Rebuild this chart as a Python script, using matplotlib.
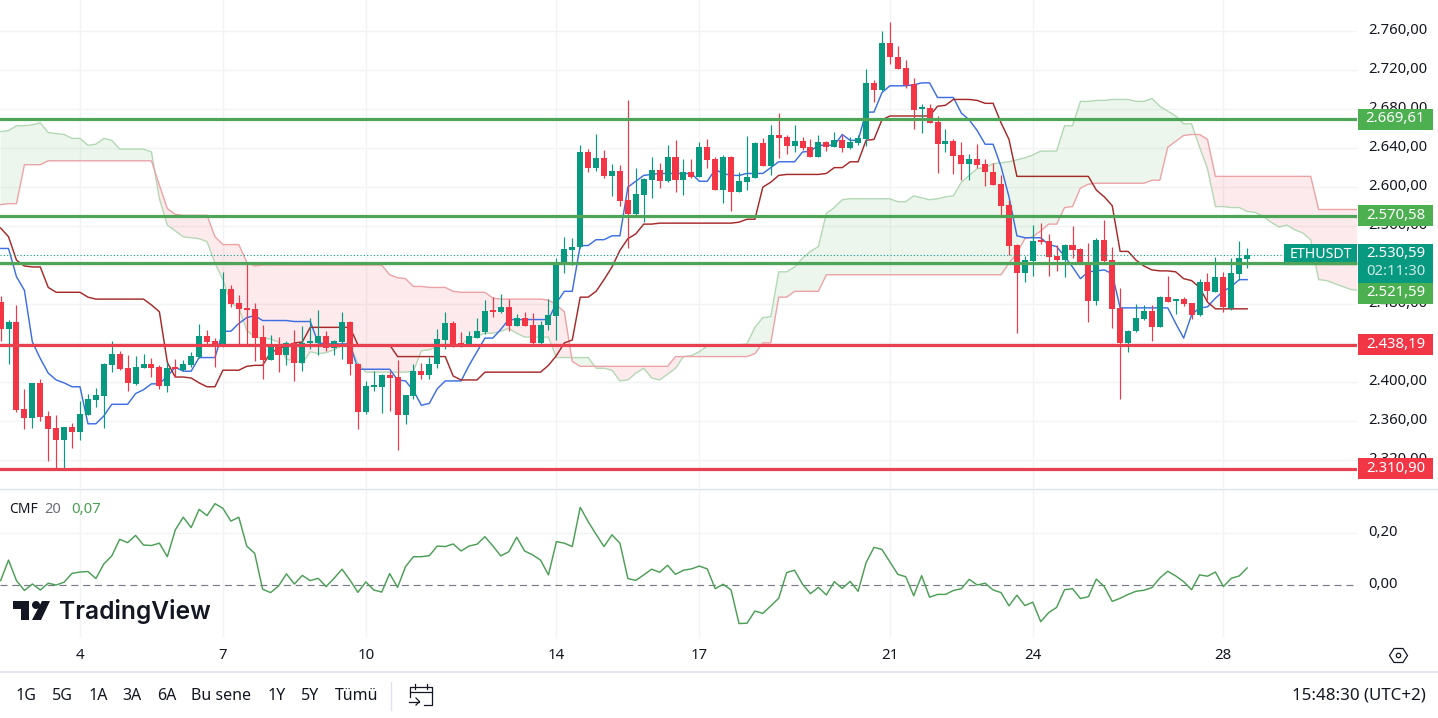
import matplotlib
matplotlib.use('Agg')
import matplotlib.pyplot as plt
import numpy as np
from matplotlib.patches import Rectangle, Polygon, Circle

plt.rcParams['font.family'] = ['Noto Sans', 'DejaVu Sans']

# candles, one row = 10 bars, first bar is index -10
opens = [2482,2454,2461,2372,2363,2399,2365,2353,2340,2354,
         2349,2366,2381,2386,2417,2429,2414,2398,2414,2418,
         2415,2396,2415,2412,2417,2426,2447,2442,2438,2495,
         2481,2476,2475,2446,2422,2438,2428,2440,2419,2440,
         2440,2447,2435,2441,2462,2418,2369,2395,2395,2407,
         2405,2366,2386,2411,2407,2418,2443,2460,2440,2438,
         2445,2451,2473,2472,2477,2457,2466,2458,2440,2458,
         2468,2520,2535,2538,2636,2620,2630,2611,2617,2587,
         2572,2592,2607,2618,2606,2631,2607,2615,2610,2641,
         2629,2597,2631,2595,2605,2609,2645,2622,2654,2651,
         2642,2647,2641,2631,2646,2641,2648,2640,2645,2649,
         2707,2700,2748,2734,2722,2706,2680,2681,2667,2644,
         2647,2633,2624,2629,2624,2616,2603,2582,2541,2512,
         2524,2545,2545,2529,2525,2541,2536,2522,2483,2546,
         2525,2476,2440,2452,2465,2473,2456,2487,2483,2485,
         2481,2469,2503,2492,2508,2476,2511,2526]
highs = [2488,2464,2479,2393,2399,2403,2370,2366,2354,2358,
         2380,2388,2394,2419,2442,2432,2428,2427,2429,2425,
         2417,2420,2424,2422,2431,2459,2453,2445,2513,2499,
         2489,2522,2481,2458,2448,2446,2442,2453,2457,2466,
         2474,2452,2443,2472,2463,2419,2401,2411,2408,2411,
         2422,2387,2418,2419,2426,2454,2472,2463,2451,2452,
         2466,2484,2487,2490,2485,2470,2472,2471,2463,2485,
         2527,2549,2548,2643,2639,2655,2638,2624,2623,2689,
         2620,2609,2631,2625,2643,2648,2629,2629,2646,2649,
         2631,2633,2632,2615,2652,2646,2650,2664,2676,2653,
         2664,2651,2649,2654,2647,2657,2653,2651,2654,2721,
         2710,2760,2770,2745,2730,2712,2685,2685,2673,2660,
         2649,2646,2634,2644,2629,2625,2612,2587,2542,2529,
         2561,2563,2552,2541,2542,2560,2537,2543,2548,2566,
         2538,2496,2453,2480,2479,2479,2488,2509,2485,2487,
         2481,2506,2512,2528,2513,2527,2545,2537]
lows = [2442,2418,2369,2352,2353,2360,2319,2311,2311,2332,
        2340,2366,2374,2353,2410,2412,2391,2397,2414,2405,
        2393,2390,2405,2411,2415,2425,2439,2415,2436,2477,
        2439,2438,2421,2403,2422,2410,2417,2401,2411,2434,
        2428,2432,2428,2424,2407,2352,2367,2391,2368,2370,
        2330,2357,2382,2403,2403,2414,2434,2436,2436,2437,
        2445,2449,2467,2471,2452,2457,2457,2439,2438,2453,
        2443,2512,2520,2537,2615,2617,2609,2591,2581,2537,
        2571,2564,2589,2599,2605,2595,2592,2609,2610,2620,
        2597,2584,2575,2595,2597,2609,2622,2612,2630,2634,
        2636,2638,2631,2631,2637,2641,2636,2639,2643,2642,
        2687,2699,2726,2721,2702,2660,2656,2666,2614,2636,
        2613,2607,2607,2620,2601,2602,2570,2530,2450,2503,
        2509,2542,2509,2514,2508,2527,2521,2462,2479,2521,
        2455,2382,2431,2451,2464,2442,2456,2482,2470,2478,
        2465,2468,2484,2492,2472,2474,2505,2517]
closes = [2454,2461,2371,2363,2399,2364,2352,2340,2354,2349,
          2367,2382,2387,2418,2429,2413,2399,2415,2418,2414,
          2396,2414,2413,2418,2427,2447,2441,2437,2495,2480,
          2475,2474,2445,2422,2438,2428,2440,2419,2440,2441,
          2447,2435,2442,2462,2418,2369,2396,2396,2407,2404,
          2366,2387,2411,2407,2418,2444,2460,2438,2438,2447,
          2452,2473,2472,2477,2457,2466,2457,2440,2458,2469,
          2522,2536,2539,2636,2620,2630,2611,2617,2586,2572,
          2593,2608,2618,2606,2631,2607,2615,2610,2641,2628,
          2597,2631,2595,2606,2610,2645,2622,2654,2650,2642,
          2647,2640,2631,2646,2641,2648,2640,2646,2650,2707,
          2700,2748,2734,2721,2705,2679,2681,2666,2644,2647,
          2632,2624,2629,2623,2615,2602,2581,2540,2512,2525,
          2545,2544,2528,2525,2541,2535,2521,2483,2546,2524,
          2475,2440,2452,2466,2473,2456,2487,2482,2485,2480,
          2469,2503,2493,2508,2477,2512,2527,2530.59]

tenkan = [2537,2537,2508,2494,2441,2424,2409,2402,2399,2395,
          2395,2357,2357,2365,2377,2377,2377,2388,2392,2398,
          2398,2406,2415,2411,2411,2425,2425,2425,2452,2452,
          2460,2466,2468,2463,2463,2463,2463,2462,2462,2462,
          2440,2439,2439,2439,2439,2413,2413,2413,2413,2413,
          2402,2401,2391,2376,2378,2393,2401,2401,2401,2417,
          2431,2445,2445,2454,2464,2464,2464,2464,2464,2464,
          2481,2493,2493,2540,2540,2546,2546,2550,2550,2600,
          2606,2612,2613,2614,2614,2614,2614,2614,2606,2606,
          2618,2614,2612,2612,2614,2614,2614,2620,2626,2626,
          2626,2636,2637,2643,2643,2643,2654,2648,2648,2677,
          2677,2697,2704,2704,2704,2705,2707,2707,2692,2692,
          2692,2676,2669,2658,2644,2644,2621,2590,2550,2548,
          2548,2548,2541,2539,2529,2518,2506,2513,2514,2515,
          2511,2476,2476,2476,2476,2476,2476,2476,2460,2445,
          2469,2476,2477,2486,2493,2498,2505,2505]
kijun = [2558,2549,2525,2519,2518,2518,2497,2492,2492,2492,
         2492,2487,2485,2485,2485,2485,2485,2485,2485,2479,
         2472,2420,2405,2405,2404,2399,2395,2395,2412,2412,
         2412,2416,2417,2417,2430,2434,2437,2440,2441,2456,
         2456,2456,2456,2456,2456,2438,2438,2438,2438,2438,
         2426,2426,2426,2426,2426,2426,2426,2406,2402,2402,
         2402,2410,2410,2410,2410,2410,2410,2410,2410,2417,
         2427,2440,2443,2487,2487,2493,2505,2518,2535,2547,
         2552,2562,2562,2563,2563,2563,2563,2563,2563,2563,
         2563,2563,2563,2564,2567,2567,2600,2605,2612,2613,
         2613,2613,2613,2613,2614,2620,2620,2626,2626,2648,
         2649,2669,2673,2673,2673,2673,2673,2673,2683,2684,
         2690,2690,2690,2689,2686,2686,2666,2649,2611,2611,
         2611,2611,2611,2611,2611,2611,2611,2611,2597,2590,
         2581,2534,2534,2525,2519,2515,2514,2514,2513,2506,
         2504,2497,2482,2475,2475,2475,2475,2475]
span_a = [2657,2658,2663,2663,2664,2666,2656,2655,2654,2650,
          2650,2643,2644,2650,2648,2639,2639,2639,2639,2636,
          2588,2561,2555,2549,2548,2547,2544,2522,2505,2481,
          2476,2453,2446,2445,2444,2441,2423,2422,2419,2431,
          2429,2430,2433,2437,2438,2419,2410,2410,2410,2410,
          2410,2410,2411,2432,2433,2436,2438,2438,2438,2445,
          2447,2450,2450,2452,2455,2450,2446,2446,2446,2446,
          2425,2425,2425,2425,2425,2414,2414,2412,2401,2402,
          2409,2414,2404,2402,2408,2414,2426,2427,2431,2437,
          2438,2438,2438,2438,2439,2456,2466,2467,2513,2513,
          2518,2527,2534,2539,2573,2579,2587,2588,2588,2588,
          2588,2588,2588,2585,2585,2591,2589,2587,2588,2590,
          2591,2605,2612,2619,2620,2624,2625,2626,2628,2630,
          2633,2637,2637,2637,2663,2663,2688,2688,2689,2689,
          2690,2690,2690,2688,2688,2691,2683,2678,2673,2665,
          2665,2641,2619,2580,2580,2579,2579,2575,2574,2570,
          2564,2559,2561,2556,2553,2546,2505,2504,2501,2498,
          2495,2494]
span_b = [2582,2583,2583,2623,2623,2623,2627,2627,2627,2627,
          2627,2627,2627,2627,2627,2627,2627,2627,2627,2627,
          2602,2578,2572,2571,2571,2571,2571,2549,2541,2541,
          2541,2523,2519,2520,2520,2520,2520,2520,2520,2520,
          2520,2520,2520,2520,2520,2520,2520,2520,2520,2510,
          2507,2506,2498,2498,2497,2497,2497,2493,2492,2492,
          2492,2492,2486,2485,2485,2485,2485,2485,2485,2484,
          2479,2472,2421,2416,2416,2416,2416,2416,2416,2416,
          2416,2416,2416,2416,2416,2426,2426,2426,2426,2426,
          2426,2426,2426,2426,2426,2429,2440,2440,2487,2487,
          2493,2493,2493,2493,2510,2510,2510,2510,2510,2510,
          2510,2510,2510,2510,2510,2510,2510,2510,2510,2510,
          2510,2510,2510,2510,2510,2510,2510,2522,2532,2547,
          2549,2555,2562,2562,2579,2580,2599,2603,2604,2604,
          2604,2604,2604,2604,2604,2607,2607,2641,2647,2653,
          2654,2654,2649,2611,2611,2611,2611,2611,2611,2611,
          2611,2611,2611,2611,2611,2611,2577,2577,2577,2577,
          2577,2577]
cmf = [.018,.097,.018,-.02,.005,-.018,.008,.001,.012,.046,
       .051,.053,.026,.082,.113,.177,.164,.192,.155,.153,
       .162,.11,.213,.262,.222,.292,.268,.314,.296,.247,
       .262,.151,.123,-.015,-.028,-.003,.044,.005,.038,.018,
       .027,-.005,.027,.062,.02,-.027,.013,-.018,-.026,.045,
       -.008,.072,.11,.11,.114,.151,.149,.159,.132,.151,
       .158,.187,.151,.113,.129,.185,.132,.117,.097,.04,
       .168,.162,.149,.3,.245,.196,.149,.194,.162,.026,
       .019,.04,.062,.05,.077,.042,.058,.063,.074,.063,
       -.013,.004,-.018,-.147,-.146,-.099,-.108,-.079,-.05,.049,
       .058,.004,-.032,-.008,-.037,.014,-.012,.015,-.023,.087,
       .146,.138,.09,.042,.033,-.04,.037,-.046,-.035,-.035,
       -.02,-.013,.023,.001,.008,-.018,-.028,-.079,-.038,-.078,
       -.065,-.14,-.105,-.085,-.017,-.013,-.051,-.044,.024,-.005,
       -.062,-.05,-.035,-.023,-.019,-.009,.028,.054,.036,.014,
       -.017,.04,.035,.051,-.005,.027,.036,.067]

day_ticks = [0, 18, 36, 60, 78, 102, 120, 144]
day_labels = ['4', '7', '10', '14', '17', '21', '24', '28']
bold_days = ['7', '14', '21', '28']
price_ticks = [2320, 2360, 2400, 2440, 2480, 2520, 2560, 2600, 2640, 2680, 2720, 2760]
green_levels = [2669.61, 2570.58, 2521.59]
red_levels = [2438.19, 2310.90]
last_price = 2530.59
ranges = ['1G', '5G', '1A', '3A', '6A', 'Bu sene', '1Y', '5Y', 'Tümü']

UP = '#089981'
DOWN = '#F23645'
GRID = '#F2F3F5'
LEVEL_G = '#4FA557'
TXT = '#131722'

W, H = 1438, 718
PANE_R = 1357
fig = plt.figure(figsize=(W / 100, H / 100), dpi=100, facecolor='white')
ax = fig.add_axes([0, 1 - 488 / H, PANE_R / W, 488 / H])
ax2 = fig.add_axes([0, 1 - 637 / H, PANE_R / W, 148 / H])
ov = fig.add_axes([0, 0, 1, 1], zorder=10)
ov.set_xlim(0, W)
ov.set_ylim(H, 0)
ov.axis('off')
ov.patch.set_alpha(0)


def y_of(p):
    return 119.3 + (2669.61 - p) * 0.974


xlim = (-80 / 7.94, (PANE_R - 80) / 7.94)
for a in (ax, ax2):
    a.set_xlim(*xlim)
    for s in a.spines.values():
        s.set_visible(False)
    a.set_xticks(day_ticks)
    a.grid(axis='x', color=GRID, lw=1.0)
    a.grid(axis='y', color=GRID, lw=1.0)
    a.set_axisbelow(True)
    a.tick_params(length=0)

ax.set_ylim(2669.61 - 368.7 / 0.974, 2669.61 + 119.3 / 0.974)
ax.set_yticks(price_ticks)
ax.set_xticklabels([])
ax.set_yticklabels([])

ax2.set_ylim((585.3 - 637) / 260, (585.3 - 489) / 260)
ax2.set_yticks([0.2])
ax2.set_yticklabels([])
ax2.set_xticklabels(day_labels, fontsize=10.8, color=TXT)
ax2.tick_params(axis='x', pad=8.2)
for lb in ax2.get_xticklabels():
    if lb.get_text() in bold_days:
        lb.set_fontweight('bold')

# ichimoku cloud
xa = np.arange(len(span_a)) - 10
sa = np.array(span_a, float)
sb = np.array(span_b, float)
ax.fill_between(xa, sa, sb, where=sa >= sb, interpolate=True, color='#4CAF50', alpha=0.10, lw=0, zorder=1)
ax.fill_between(xa, sa, sb, where=sa < sb, interpolate=True, color='#F23645', alpha=0.10, lw=0, zorder=1)
ax.plot(xa, sa, color='#B4D8B5', lw=1.0, zorder=2)
ax.plot(xa, sb, color='#EBA3A6', lw=1.0, zorder=2)

xb = np.arange(len(opens)) - 10
ax.plot(xb, tenkan, color='#3D6FE3', lw=1.05, zorder=3)
ax.plot(xb, kijun, color='#A52A2A', lw=1.05, zorder=3)

# candles
o = np.array(opens, float)
c = np.array(closes, float)
cols = [UP if cc >= oo else DOWN for oo, cc in zip(o, c)]
ax.vlines(xb, lows, highs, colors=cols, lw=0.85, zorder=4)
ax.bar(xb, np.maximum(np.abs(c - o), 2), bottom=np.minimum(o, c), width=0.76, color=cols, lw=0, zorder=5)

ax.axhline(last_price, color=UP, lw=0.8, ls=(0, (1, 2)), zorder=6)
for v in green_levels:
    ax.axhline(v, color=LEVEL_G, lw=2.3, zorder=7)
for v in red_levels:
    ax.axhline(v, color='#E8404F', lw=2.3, zorder=7)

# CMF pane
ax2.axhline(0, color='#787B86', lw=0.85, ls=(0, (6, 4)), zorder=2)
ax2.plot(xb, cmf, color='#4C9F56', lw=1.05, zorder=3)

# price scale
for v in price_ticks:
    ov.text(1368, y_of(v) - 0.5, f'{v // 1000}.{v % 1000:03d},00', fontsize=10.7, color=TXT, va='center', ha='left', zorder=1)
for v, t in [(0.2, '0,20'), (0.0, '0,00')]:
    ov.text(1368, 585.3 - v * 260 - 0.5, t, fontsize=10.7, color=TXT, va='center', ha='left')

for v in green_levels + red_levels:
    col = '#4CAF50' if v in green_levels else '#F23645'
    yy = y_of(v)
    # the last-price box pushes this label below it
    if v == 2521.59:
        yy = 293
    ov.add_patch(Rectangle((1358, yy - 10.5), 75, 21, fc=col, ec='none', zorder=4))
    ov.text(1395.5, yy - 0.5, f'{int(v) // 1000}.{int(v) % 1000:03d},{round(v % 1 * 100):02d}', fontsize=10.7,
            fontweight='bold', color='white', ha='center', va='center', zorder=5)

ov.add_patch(Rectangle((1284, 244), 73, 21, fc=UP, ec='none', zorder=3))
ov.plot([1284, 1357], [y_of(2521.59)] * 2, color=LEVEL_G, lw=2.3, zorder=3.5, solid_capstyle='butt')
ov.text(1320.5, 254.3, 'ETHUSDT', fontsize=10.2, color='white', ha='center', va='center', zorder=6)
ov.add_patch(Rectangle((1358, 244), 75, 39, fc=UP, ec='none', zorder=3))
ov.text(1395.5, 253.5, '2.530,59', fontsize=10.7, fontweight='bold', color='white', ha='center', va='center', zorder=6)
ov.text(1395.5, 271.5, '02:11:30', fontsize=10.7, color='#CFE9E4', ha='center', va='center', zorder=6)

# CMF legend
ov.text(9, 509.5, 'CMF', fontsize=10, color=TXT, va='center')
ov.text(44, 509.5, '20', fontsize=10.5, color='#6A6D78', va='center')
ov.text(71, 509.5, '0,07', fontsize=10.8, color='#4C9F56', va='center')

# logo
LOGO = '#131722'
ov.add_patch(Polygon([(13, 601), (29, 601), (29, 620), (21, 620), (21, 609), (13, 609)], fc=LOGO, ec='none'))
ov.add_patch(Circle((36, 605), 4, fc=LOGO, ec='none'))
ov.add_patch(Polygon([(42, 601), (50, 601), (41, 620), (32, 620)], fc=LOGO, ec='none'))
ov.text(59.5, 611, 'TradingView', fontsize=17.7, fontfamily='Inter', fontweight='semibold', color=LOGO, va='center')

# separators
ov.plot([0, W], [488.5, 488.5], color='#E0E3EB', lw=1.0)
ov.plot([0, W], [671.5, 671.5], color='#E0E3EB', lw=1.2)

# hexagon settings icon
ov.add_patch(Polygon([(1389.5, 655.5), (1394, 648.5), (1403, 648.5), (1407.5, 655.5), (1403, 662.5), (1394, 662.5)],
                     fc='none', ec=TXT, lw=0.9))
ov.add_patch(Circle((1398.5, 655.5), 2.2, fc='none', ec=TXT, lw=0.9))

# bottom toolbar
range_x = [26, 62, 98, 132, 167, 221, 277, 310, 357]
for x, t in zip(range_x, ranges):
    ov.text(x, 695.5, t, fontsize=11.5, color=TXT, ha='center', va='center')
ov.plot([391, 391], [682, 710], color='#E0E3EB', lw=1.0)
ov.plot([410, 410, 432, 432, 427, 424], [697, 687, 687, 705, 705, 705], color=TXT, lw=0.9)
ov.plot([410, 432], [691.5, 691.5], color=TXT, lw=0.9)
ov.plot([415, 415], [684, 689], color=TXT, lw=0.9)
ov.plot([427, 427], [684, 689], color=TXT, lw=0.9)
ov.plot([409, 419], [701.5, 701.5], color=TXT, lw=0.9)
ov.plot([416, 419.5, 416], [698, 701.5, 705], color=TXT, lw=0.9)
ov.text(1426, 696, '15:48:30 (UTC+2)', fontsize=12.2, color=TXT, ha='right', va='center')

fig.savefig('out.png', dpi=100, facecolor='white')
